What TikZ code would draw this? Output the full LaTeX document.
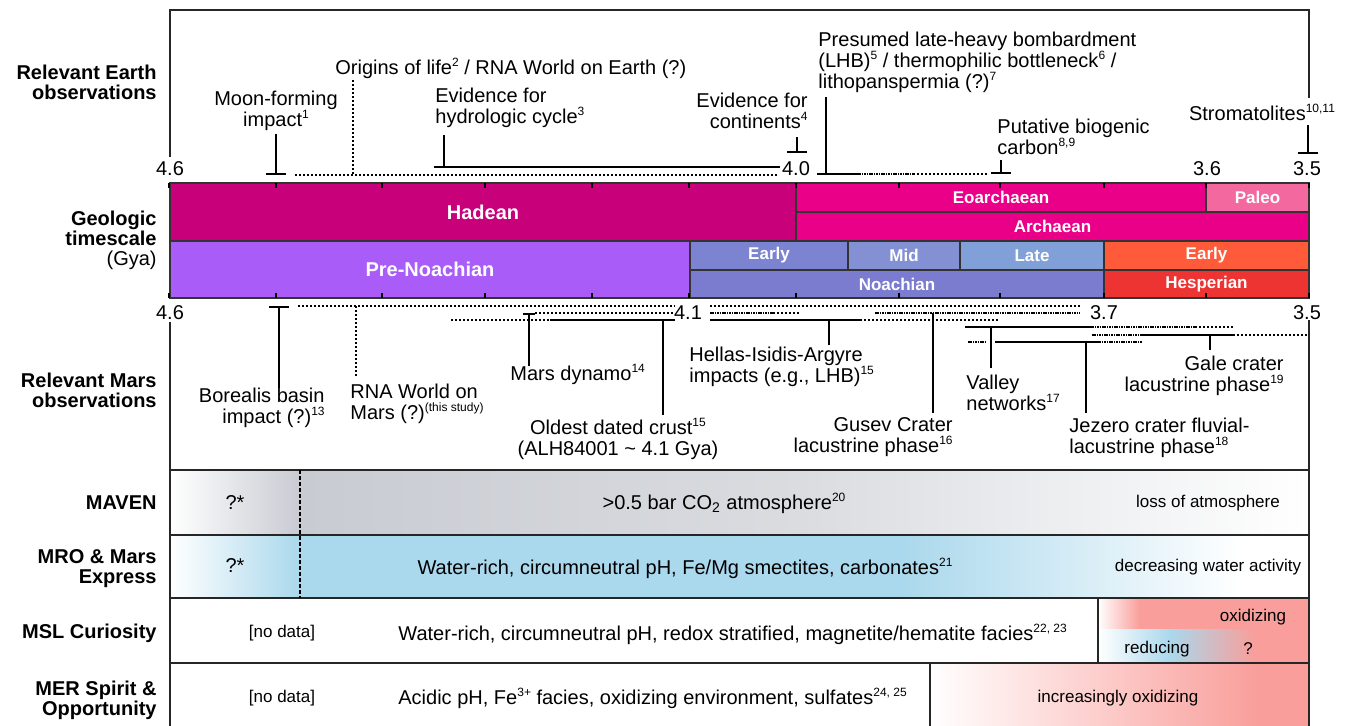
\documentclass[tikz,border=0pt]{standalone}
\usepackage{fontspec}
\setmainfont{Liberation Sans}
\usepackage{tikz}
\usetikzlibrary{arrows.meta}

\definecolor{hadean}{RGB}{200,0,122}
\definecolor{archaean}{RGB}{234,0,136}
\definecolor{paleo}{RGB}{244,104,160}
\definecolor{prenoach}{RGB}{169,92,248}
\definecolor{nearly}{RGB}{124,131,209}
\definecolor{nmid}{RGB}{131,144,212}
\definecolor{nlate}{RGB}{130,160,216}
\definecolor{noachian}{RGB}{123,123,207}
\definecolor{hespearly}{RGB}{255,91,59}
\definecolor{hesperian}{RGB}{238,51,51}
\definecolor{mavengray}{RGB}{200,203,210}
\definecolor{mavenlight}{RGB}{218,220,224}
\definecolor{mroblue}{RGB}{170,216,236}
\definecolor{oxred}{RGB}{249,158,154}

\newcommand{\supref}[1]{\raisebox{0.75ex}{\fontsize{6}{6}\selectfont #1}}

\tikzset{lbl/.style={font=\fontsize{10}{10.5}\selectfont, inner sep=1pt, align=left},
	rowlbl/.style={font=\fontsize{10}{10}\selectfont\bfseries, align=right, anchor=east, inner sep=1pt},
	barlbl/.style={font=\fontsize{8.5}{9}\selectfont\bfseries, text=white},
	barbig/.style={font=\fontsize{10}{10}\selectfont\bfseries, text=white},
	smalllbl/.style={font=\fontsize{8.5}{9}\selectfont, inner sep=1pt},
	axlbl/.style={font=\fontsize{10}{10}\selectfont, inner sep=0pt},
	frame/.style={line width=0.9pt, black!85},
	mk/.style={line width=0.8pt},
	tee/.style={mk, -{Bar[width=10pt]}},
	dotline/.style={line width=0.7pt, dash pattern=on 1pt off 1pt},
	densedot/.style={line width=0.7pt, dash pattern=on 0.8pt off 0.4pt}}

\begin{document}
\begin{tikzpicture}[x=0.5pt, y=-0.5pt]
\useasboundingbox (0,0) rectangle (1360,726);

% Row titles
\node[rowlbl] (rEarth) at (159,82) {Relevant Earth\\observations};
\node[rowlbl] (rGeo) at (159,240) {Geologic\\timescale\\\mdseries (Gya)};
\node[rowlbl] (rMars) at (159,390) {Relevant Mars\\observations};
\node[rowlbl] (rMaven) at (159,503) {MAVEN};
\node[rowlbl] (rMro) at (159,569) {MRO \& Mars\\Express};
\node[rowlbl] (rMsl) at (159,633) {MSL Curiosity};
\node[rowlbl] (rMer) at (159,700) {MER Spirit \&\\Opportunity};

% Earth frame
\path[draw, frame] (170,157) -- (170,10) -- (1309,10) -- (1309,98);

% Earth observations
\node[lbl, align=center] (moon) at (276,111) {Moon-forming\\impact\supref{1}};
	\draw[tee] (276,134) -- (276,175);
	\draw[dotline] (295,175) -- (777,175);
\node[lbl, anchor=west] (origins) at (333,68) {Origins of life\supref{2} / RNA World on Earth (?)};
	\draw[dotline] (353,80) -- (353,175);
\node[lbl, anchor=west] (hydro) at (433,108) {Evidence for\\hydrologic cycle\supref{3}};
	\draw[mk] (444,135) -- (444,167) (434,167) -- (780,167);
\node[lbl, anchor=east, align=right] (cont) at (810,111) {Evidence for\\continents\supref{4}};
	\draw[tee] (797,137) -- (797,153);
\node[lbl, anchor=west] (lhb) at (816,62) {Presumed late-heavy bombardment\\(LHB)\supref{5} / thermophilic bottleneck\supref{6} /\\lithopanspermia (?)\supref{7}};
	\draw[mk] (826,97) -- (826,174) (817,174) -- (857,174);
	\draw[densedot] (857,174) -- (913,174);
	\draw[dotline] (913,174) -- (987,174);
\node[lbl, anchor=west] (carbon) at (995,137) {Putative biogenic\\carbon\supref{8,9}};
	\draw[tee] (1001,160) -- (1001,174);
\node[lbl] (stromat) at (1262,112) {Stromatolites\supref{10,11}};
	\draw[tee] (1308,125) -- (1308,154);

% Geologic timescale
\foreach \xa/\ya/\xb/\yb/\col/\st/\txt [count=\i] in {
	170/183/796/241/hadean/barbig/Hadean, 796/183/1206/212/archaean/barlbl/Eoarchaean,
	1206/183/1309/212/paleo/barlbl/Paleo, 796/212/1309/241/archaean/barlbl/Archaean,
	170/241/690/298/prenoach/barbig/Pre-Noachian, 690/241/848/270/nearly/barlbl/Early,
	848/241/960/270/nmid/barlbl/Mid, 960/241/1104/270/nlate/barlbl/Late,
	690/270/1104/298/noachian/barlbl/Noachian, 1104/241/1309/270/hespearly/barlbl/Early,
	1104/270/1309/298/hesperian/barlbl/Hesperian}
	{
	\path[draw=black!80, line width=0.6pt, fill=\col] (\xa,\ya) rectangle (\xb,\yb);
	\node[\st] (bar\i) at ({(\xa+\xb)/2},{(\ya+\yb)/2}) {\txt};
	}

\foreach \x in {169,276,382,485,592,689,796,899,1000,1104,1206,1309}
	{
	\draw[line width=0.6pt] (\x,183) -- (\x,188);
	\draw[line width=0.6pt] (\x,298) -- (\x,293);
	}

\foreach \x/\t [count=\i] in {170/4.6, 796/4.0, 1207/3.6, 1307/3.5}
	\node[axlbl] (eax\i) at (\x,169) {\t};
\foreach \x/\t [count=\i] in {170/4.6, 688/4.1, 1104/3.7, 1307/3.5}
	\node[axlbl] (max\i) at (\x,313) {\t};

% Mars frame
\path[draw, frame] (170,322) -- (170,726);
\path[draw, frame] (1309,320) -- (1309,726);

% Mars observations
\node[lbl, anchor=east, align=right] (boreal) at (327,408) {Borealis basin\\impact (?)\supref{13}};
	\draw[mk, {Bar[width=10pt]}-] (279,306) -- (279,388);
	\draw[dotline] (298,306) -- (675,306) (710,306) -- (1080,306);
\node[lbl, anchor=west] (rnamars) at (348,404) {RNA World on\\Mars (?)\supref{(this study)}};
	\draw[dotline] (356,306) -- (356,378);
\node[lbl, anchor=west] (dynamo) at (508,374) {Mars dynamo\supref{14}};
	\draw[mk, {Bar[width=6pt]}-] (529,313) -- (529,366);
	\draw[dotline] (535,313) -- (675,313);
\node[lbl, align=center] (crust) at (618,439) {Oldest dated crust\supref{15}\\(ALH84001 \textasciitilde\ 4.1 Gya)};
	\draw[dotline] (451,320) -- (550,320);
	\draw[mk] (550,320) -- (675,320) (663,320) -- (663,415);
\node[lbl, anchor=west] (hellas) at (687,367) {Hellas-Isidis-Argyre\\impacts (e.g., LHB)\supref{15}};
	\draw[mk] (710,320) -- (860,320) (829,320) -- (829,345);
	\draw[dotline] (860,320) -- (1000,320);
\node[lbl, anchor=east, align=right] (gusev) at (955,437) {Gusev Crater\\lacustrine phase\supref{16}};
	\draw[densedot] (710,313) -- (773,313) (875,313) -- (1080,313);
	\draw[dotline] (773,313) -- (800,313);
	\draw[mk] (933,313) -- (933,413);
\node[lbl, anchor=west] (valley) at (964,393) {Valley\\networks\supref{17}};
	\draw[mk] (965,327) -- (1090,327) (991,327) -- (991,368);
	\draw[densedot] (1090,327) -- (1195,327);
	\draw[dotline] (1195,327) -- (1235,327);
\node[lbl, anchor=east, align=right] (gale) at (1286,376) {Gale crater\\lacustrine phase\supref{19}};
	\draw[densedot] (1092,335) -- (1142,335);
	\draw[mk] (1142,335) -- (1233,335) (1210,335) -- (1210,350);
	\draw[dotline] (1233,335) -- (1309,335);
\node[lbl, anchor=west] (jezero) at (1067,438) {Jezero crater fluvial-\\lacustrine phase\supref{18}};
	\draw[densedot] (968,342) -- (987,342) (1097,342) -- (1142,342);
	\draw[mk] (995,342) -- (1097,342) (1086,342) -- (1086,413);

% Missions
\shade[left color=white, right color=mavengray] (170,470) rectangle (300,535);
\shade[left color=mavengray, right color=mavenlight] (300,470) rectangle (800,535);
\shade[left color=mavenlight, right color=white] (800,470) rectangle (1309,535);
\shade[left color=white, right color=mroblue] (170,535) rectangle (300,598);
\fill[mroblue] (300,535) rectangle (900,598);
\shade[left color=mroblue, right color=white] (900,535) rectangle (1240,598);
\shade[left color=white, right color=oxred] (1098,598) rectangle (1140,630);
\fill[oxred] (1140,598) rectangle (1309,630);
\shade[left color=white, right color=mroblue] (1098,630) rectangle (1170,663);
\shade[left color=mroblue, right color=oxred] (1170,630) rectangle (1255,663);
\fill[oxred] (1255,630) rectangle (1309,663);
\shade[left color=white, right color=oxred] (930,663) rectangle (1260,726);
\fill[oxred] (1260,663) rectangle (1309,726);

\foreach \y in {470,535,598,663}
	\draw[frame] (170,\y) -- (1309,\y);
\draw[frame] (170,470) -- (170,726) (1309,470) -- (1309,726);
\draw[frame] (1098,598) -- (1098,663) (930,663) -- (930,726);
\draw[line width=0.6pt, dash pattern=on 2pt off 1pt] (300,470) -- (300,598);

\node[lbl] (q1) at (235,503) {?*};
\node[lbl] (maventxt) at (724,503) {>0.5 bar CO\textsubscript{2} atmosphere\supref{20}};
\node[smalllbl] (loss) at (1208,503) {loss of atmosphere};
\node[lbl] (q2) at (235,566) {?*};
\node[lbl] (mrotxt) at (685,568) {Water-rich, circumneutral pH, Fe/Mg smectites, carbonates\supref{21}};
\node[smalllbl] (decr) at (1208,567) {decreasing water activity};
\node[smalllbl] (nod1) at (282,633) {[no data]};
\node[lbl, anchor=west] (msltxt) at (396,634) {Water-rich, circumneutral pH, redox stratified, magnetite/hematite facies\supref{22, 23}};
\node[smalllbl] (oxi) at (1253,617) {oxidizing};
\node[smalllbl] (red) at (1157,649) {reducing};
\node[smalllbl] (qm) at (1248,649) {?};
\node[smalllbl] (nod2) at (282,698) {[no data]};
\node[lbl, anchor=west] (mertxt) at (396,698) {Acidic pH, Fe\supref{3+} facies, oxidizing environment, sulfates\supref{24, 25}};
\node[smalllbl] (incr) at (1118,698) {increasingly oxidizing};

\end{tikzpicture}
\end{document}
